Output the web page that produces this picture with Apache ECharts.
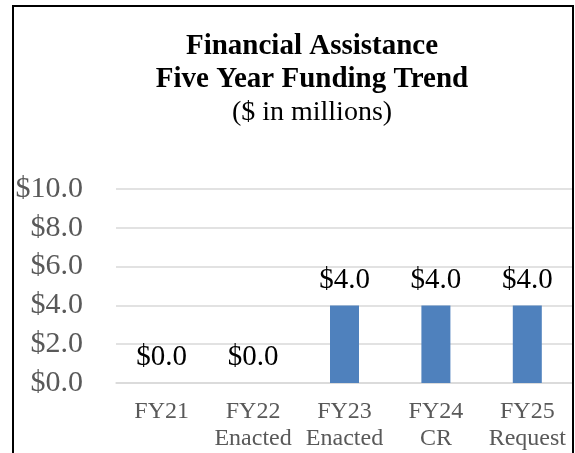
<!DOCTYPE html>
<html>
<head>
<meta charset="utf-8">
<script src="https://cdn.jsdelivr.net/npm/echarts@6/dist/echarts.min.js"></script>
<style>
  html, body { margin: 0; padding: 0; background: #ffffff; }
  #chart { width: 575px; height: 453px; }
</style>
</head>
<body>
<div id="chart"></div>
<script>
// Funding by fiscal year, $ in millions
const categories = ['FY21', 'FY22\nEnacted', 'FY23\nEnacted', 'FY24\nCR', 'FY25\nRequest'];
const funding = [0.0, 0.0, 4.0, 4.0, 4.0];
const yTicks = { min: 0, max: 10, interval: 2 };

const serif = '"Liberation Serif", "Times New Roman", serif';
const chart = echarts.init(document.getElementById('chart'));

chart.setOption({
  backgroundColor: '#ffffff',
  animation: false,
  title: {
    text: 'Financial Assistance\nFive Year Funding Trend',
    subtext: '($ in millions)',
    left: 307,
    textAlign: 'center',
    top: 25,
    itemGap: 0,
    textStyle: { fontFamily: serif, fontWeight: 'bold', fontSize: 29, lineHeight: 33, color: '#000000' },
    subtextStyle: { fontFamily: serif, fontSize: 28, lineHeight: 33, color: '#000000' }
  },
  graphic: [{
    type: 'rect',
    shape: { x: 13, y: 6, width: 560, height: 460 },
    style: { fill: 'none', stroke: '#000000', lineWidth: 2 },
    z: 10
  }],
  grid: { left: 116, right: 2, top: 189, bottom: 70 },
  xAxis: {
    type: 'category',
    data: categories,
    axisLine: { show: true, lineStyle: { color: '#d9d9d9', width: 1.5 } },
    axisTick: { show: false },
    axisLabel: { interval: 0, fontFamily: serif, fontSize: 24, lineHeight: 27, color: '#595959', margin: 15 }
  },
  yAxis: {
    type: 'value',
    min: yTicks.min,
    max: yTicks.max,
    interval: yTicks.interval,
    axisLine: { show: false },
    axisTick: { show: false },
    splitLine: { lineStyle: { color: '#d9d9d9', width: 1.5 } },
    axisLabel: {
      fontFamily: serif, fontSize: 30, color: '#595959', margin: 33,
      formatter: v => '$' + v.toFixed(1)
    }
  },
  series: [{
    type: 'bar',
    data: funding,
    barWidth: 29,
    itemStyle: { color: '#4f81bd' },
    label: {
      show: true,
      position: 'top',
      distance: 11,
      fontFamily: serif,
      fontSize: 29,
      color: '#000000',
      formatter: p => '$' + p.value.toFixed(1)
    }
  }]
});
</script>
</body>
</html>
